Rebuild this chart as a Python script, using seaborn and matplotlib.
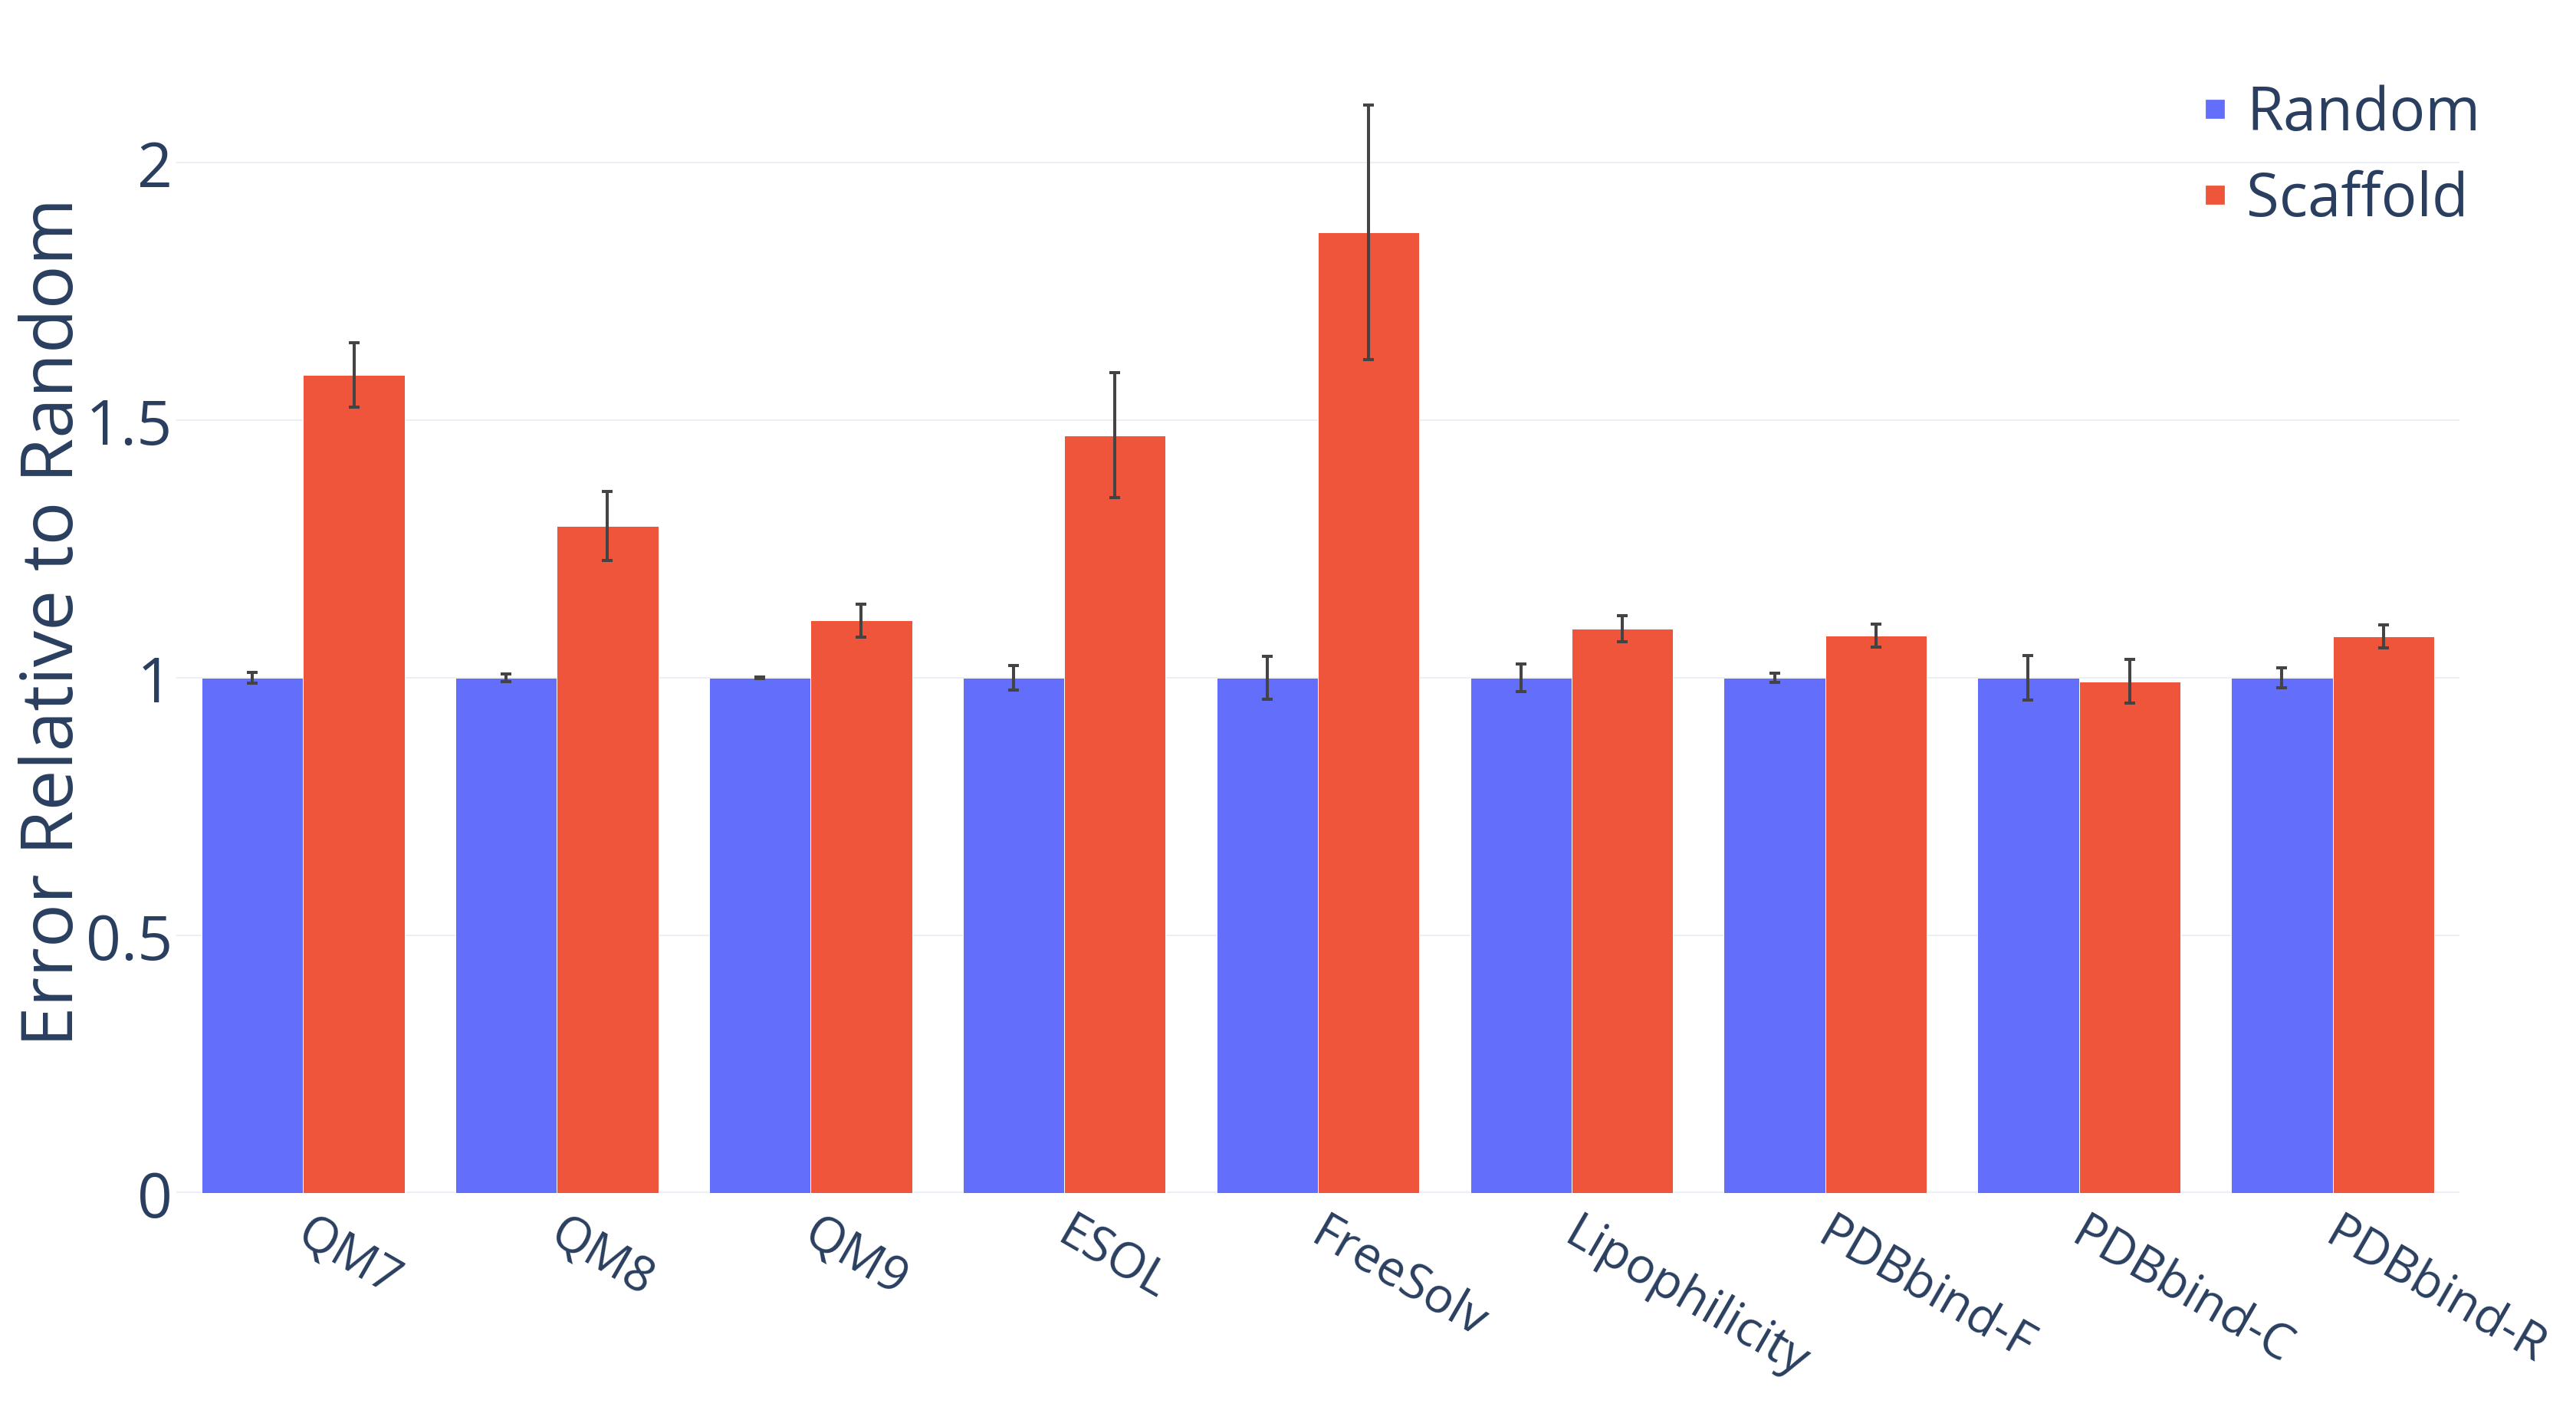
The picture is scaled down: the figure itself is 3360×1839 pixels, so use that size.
import matplotlib
matplotlib.use("Agg")
import matplotlib.pyplot as plt
import seaborn as sns
import pandas as pd
from matplotlib.lines import Line2D

datasets = ["QM7", "QM8", "QM9", "ESOL", "FreeSolv", "Lipophilicity",
            "PDBbind-F", "PDBbind-C", "PDBbind-R"]
random_mean = [1.0, 1.0, 1.0, 1.0, 1.0, 1.0, 1.0, 1.0, 1.0]
random_err = [0.010, 0.007, 0.002, 0.024, 0.041, 0.027, 0.009, 0.043, 0.020]
scaffold_mean = [1.588, 1.295, 1.111, 1.471, 1.865, 1.095, 1.082, 0.993, 1.080]
scaffold_err = [0.063, 0.067, 0.032, 0.122, 0.247, 0.025, 0.022, 0.042, 0.022]
splits = ["Random", "Scaffold"]
colors = {"Random": "#636EFA", "Scaffold": "#EF553B"}
yticks = [0, 0.5, 1, 1.5, 2]
ytick_labels = ["0", "0.5", "1", "1.5", "2"]

TXT = "#2a3f5f"
GRID = "#EBF0F8"

df = pd.DataFrame({
    "dataset": datasets * 2,
    "split": ["Random"] * len(datasets) + ["Scaffold"] * len(datasets),
    "value": random_mean + scaffold_mean,
})
errs = {"Random": random_err, "Scaffold": scaffold_err}
means = {"Random": random_mean, "Scaffold": scaffold_mean}

sns.set_style("white")
plt.rcParams["font.family"] = ["Open Sans", "DejaVu Sans"]

fig = plt.figure(figsize=(16.8, 9.2), dpi=200)
ax = fig.add_axes([0.06845, 0.1538, 0.8863, 0.81077])

sns.barplot(data=df, x="dataset", y="value", hue="split", order=datasets,
            hue_order=splits, palette=colors, saturation=1, errorbar=None,
            width=0.8, edgecolor="white", linewidth=0.35, ax=ax, zorder=2)

# error bars on top of each bar
for cont, split in zip(ax.containers, splits):
    xs = [p.get_x() + p.get_width() / 2 for p in cont.patches]
    ax.errorbar(xs, means[split], yerr=errs[split], fmt="none",
                ecolor="#444444", elinewidth=1.45, capsize=2.5,
                capthick=1.45, zorder=3)

ax.set_xlim(-0.5, len(datasets) - 0.5)
ax.set_ylim(0, 2.22)
ax.set_yticks(yticks)
ax.set_yticklabels(ytick_labels)
for s in ax.spines.values():
    s.set_visible(False)

ax.grid(axis="y", color=GRID, linewidth=0.72, zorder=0)
ax.grid(axis="x", visible=False)
ax.set_axisbelow(True)
ax.axhline(0, color=GRID, linewidth=1.5, zorder=1)

ax.tick_params(axis="y", length=0, pad=1.8, labelsize=29, labelcolor=TXT)
ax.tick_params(axis="x", length=0, pad=15, labelsize=23, labelcolor=TXT)
ax.set_xticks(range(len(datasets)))
ax.set_xticklabels(datasets, rotation=-30, ha="left", va="center_baseline",
                   rotation_mode="anchor")

ax.set_xlabel("")
ax.set_ylabel("Error Relative to Random", fontsize=34, color=TXT)
ax.yaxis.set_label_coords(-0.038, 0.5)

handles = [Line2D([], [], marker="s", linestyle="", markersize=8,
                  color=colors[s]) for s in splits]
ax.get_legend().remove()
fig.legend(handles, splits, loc="upper left", bbox_to_anchor=(2868 / 3360, 0.94),
           frameon=False, fontsize=28, handlelength=0.55, handletextpad=0.25,
           borderpad=0, borderaxespad=0, labelspacing=0.42, labelcolor=TXT)

fig.savefig("out.png", dpi=200, facecolor="white")
